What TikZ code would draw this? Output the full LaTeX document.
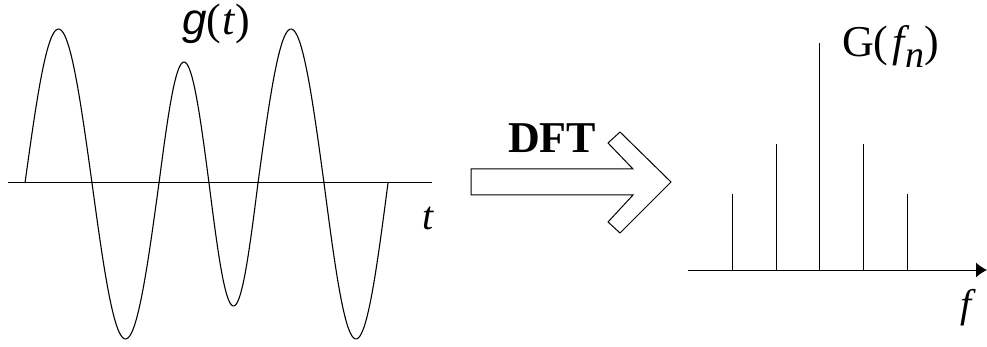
\documentclass[tikz,border=0pt]{standalone}
\usepackage{fontspec}
\setmainfont{LiberationSerif}[Extension=.ttf, UprightFont=*-Regular,
  ItalicFont=*-Italic, BoldFont=*-Bold]
\newfontfamily\arialfont{LiberationSans}[Extension=.ttf, UprightFont=*-Regular,
  ItalicFont=*-Italic]
\usetikzlibrary{positioning,arrows.meta}
\tikzset{
  lbl/.style   = {inner sep=0pt, font=\fontsize{40}{44}\selectfont},
  big/.style   = {lbl, font=\fontsize{44}{48}\selectfont},
  axis/.style  = {line width=1pt},
  ax/.style    = {axis, -{Latex[length=11pt,width=15pt]}},
  wave/.style  = {line width=1.1pt},
  stem/.style  = {line width=1pt},
  blkarr/.style= {draw, line width=1pt, fill=white, line join=miter},
}

\begin{document}
\begin{tikzpicture}[x=1pt, y=-1pt]
\useasboundingbox (0,0) rectangle (987,347);

% --- time signal (left) ---
\coordinate (t0) at (8,183);
\coordinate (t1) at (432,183);
\draw[axis] (t0) -- (t1);
\foreach \a/\b/\h in {25/92/154, 92/159/-156, 159/209/121,
                      209/258/-123, 258/324/154, 324/388/-156}
  \draw[wave] plot[domain=0:180, samples=40, smooth]
       ({\a+(\b-\a)*\x/180}, {183-\h*sin(\x)});

\node[big, anchor=base west] (gt) at (182,35)
     {{\arialfont\itshape g}(\kern1pt{\itshape t}\kern1pt)};
\node[lbl, anchor=base] (tlab) at (428,230) {\itshape t};

% --- DFT block arrow ---
\draw[blkarr] (471,169) coordinate (s0) -- (633,169) -- (608,143)
   -- (620,132) -- (671,182) coordinate (tip) -- (620,233) -- (608,222)
   -- (633,195) -- (471,195) -- cycle;
\node[big, anchor=base west, font=\fontsize{44}{48}\selectfont\bfseries]
     (dft) at (508,153) {DFT};

% --- spectrum (right) ---
\coordinate (f0) at (688,270);
\coordinate (f1) at (987,270);
\draw[ax] (f0) -- (f1);
\foreach \x/\y [count=\i] in {732/194, 776/144, 819/43, 863/144, 907/194} {
  \coordinate (b\i) at (\x,270);
  \coordinate (p\i) at (\x,\y);
  \draw[stem] (b\i) -- (p\i);
}

\node[big, anchor=base west] (gf) at (842,57)
     {G(\kern4pt{\itshape f}\kern1pt\raisebox{-11pt}{\fontsize{38}{40}\selectfont\itshape n})};
\node[lbl, anchor=base] (flab) at (966,317) {\itshape f};
\end{tikzpicture}
\end{document}
